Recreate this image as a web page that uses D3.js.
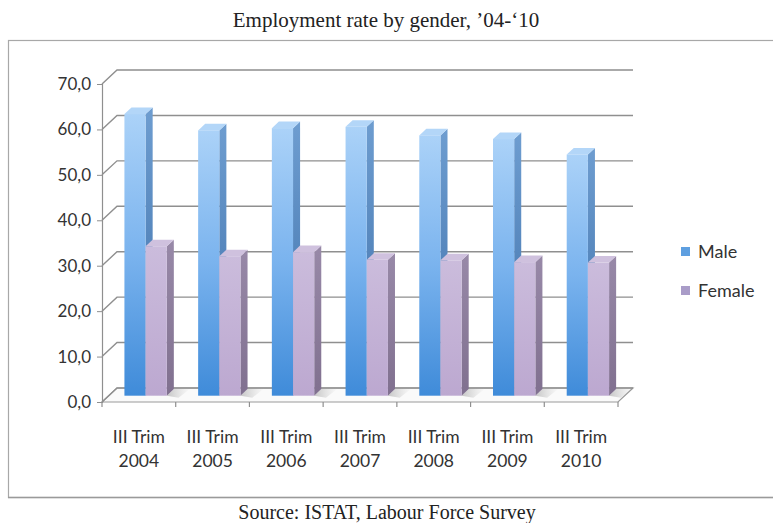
<!DOCTYPE html>
<html>
<head>
<meta charset="utf-8">
<script src="https://cdn.jsdelivr.net/npm/d3@7/dist/d3.min.js"></script>
<style>
  html, body { margin: 0; padding: 0; background: #fff; }
  svg { display: block; }
</style>
</head>
<body>
<svg id="chart" width="773" height="523"></svg>
<script>
// Employment rate by gender, third quarter 2004-2010
const categories = ["2004", "2005", "2006", "2007", "2008", "2009", "2010"];
const categoryPrefix = "III Trim";
const series = ["Male", "Female"];
const maleValues = [62.0, 58.4, 58.9, 59.2, 57.3, 56.5, 53.1];
const femaleValues = [32.9, 30.7, 31.6, 29.9, 29.8, 29.4, 29.3];
const yTicks = [0, 10, 20, 30, 40, 50, 60, 70];
const titleText = "Employment rate by gender, \u201904-\u201810";
const sourceText = "Source: ISTAT, Labour Force Survey";

const valuesBySeries = { Male: maleValues, Female: femaleValues };

const svg = d3.select("#chart");

// plot geometry (front plane of the 3-D box plus its depth vector)
const plot = { left: 102, right: 618, bottom: 402, top: 84 };
const depth = { dx: 15, dy: -14 };
const barZ = [0.45, 0.92];

const x = d3.scaleBand().domain(categories).range([plot.left, plot.right]).paddingInner(0).paddingOuter(0);
const inner = d3.scaleBand().domain(series).range([0, x.bandwidth()]).paddingInner(0).paddingOuter(0.74);
const y = d3.scaleLinear().domain([0, 70]).range([plot.bottom, plot.top]);

// project a point (front x, value, depth 0..1) onto the page
const P = (px, v, z) => [px + z * depth.dx, y(v) + z * depth.dy];
const pt = (px, v, z) => P(px, v, z).join(",");

const defs = svg.append("defs");
function vGrad(id, stops) {
  const g = defs.append("linearGradient").attr("id", id)
    .attr("x1", 0).attr("y1", 0).attr("x2", 0).attr("y2", 1);
  stops.forEach(([o, c]) => g.append("stop").attr("offset", o).attr("stop-color", c));
}
vGrad("maleFront", [[0, "#abd2f8"], [0.5, "#7ab3ee"], [1, "#3f8bd9"]]);
vGrad("maleSide", [[0, "#6e9dd0"], [1, "#3b6ea8"]]);
vGrad("femaleFront", [[0, "#cbbcdc"], [1, "#bca8d0"]]);
vGrad("femaleSide", [[0, "#9889a8"], [1, "#80708f"]]);
const shadowGrad = defs.append("linearGradient").attr("id", "floorShadow")
  .attr("x1", 0).attr("y1", 0).attr("x2", 1).attr("y2", 0);
shadowGrad.append("stop").attr("offset", 0).attr("stop-color", "#9a9a9a").attr("stop-opacity", 0.55);
shadowGrad.append("stop").attr("offset", 1).attr("stop-color", "#bbbbbb").attr("stop-opacity", 0);

const styles = {
  Male:   { front: "url(#maleFront)", side: "url(#maleSide)", top: "#b3d6f8" },
  Female: { front: "url(#femaleFront)", side: "url(#femaleSide)", top: "#cfc1de" }
};

// outer frame
svg.append("rect").attr("x", 8.5).attr("y", 40.5).attr("width", 800).attr("height", 457)
  .attr("fill", "#fff").attr("stroke", "#a8a8a8").attr("stroke-width", 1.2);
svg.append("line").attr("x1", 8).attr("x2", 773).attr("y1", 497.5).attr("y2", 497.5)
  .attr("stroke", "#9a9a9a").attr("stroke-width", 1.6);

// title and source
svg.append("text").attr("x", 386).attr("y", 27).attr("text-anchor", "middle")
  .attr("font-family", "'Liberation Serif', 'DejaVu Serif', serif").attr("font-size", 21)
  .attr("fill", "#222").text(titleText);
svg.append("text").attr("x", 387).attr("y", 519).attr("text-anchor", "middle")
  .attr("font-family", "'Liberation Serif', 'DejaVu Serif', serif").attr("font-size", 20)
  .attr("fill", "#222").text(sourceText);

// floor
const fl = plot.left, fr = plot.right;
svg.append("polygon")
  .attr("points", [pt(fl, 0, 0), pt(fr, 0, 0), pt(fr, 0, 1), pt(fl, 0, 1)].join(" "))
  .attr("fill", "#fafafa").attr("stroke", "#9a9a9a").attr("stroke-width", 1.2);

// gridlines: side wall segment + back wall line
const grid = svg.append("g");
yTicks.forEach(v => {
  const a = P(fl, v, 0), b = P(fl, v, 1), c = P(fr, v, 1);
  grid.append("polyline")
    .attr("points", [a, b, c].map(p => p.join(",")).join(" "))
    .attr("fill", "none").attr("stroke", "#8f8f8f").attr("stroke-width", 1.4);
});

// y axis on the front plane
const yAxis = svg.append("g").attr("transform", `translate(${plot.left},0)`)
  .call(d3.axisLeft(y).tickValues(yTicks).tickSize(5).tickPadding(6)
    .tickFormat(d => d3.format(".1f")(d).replace(".", ",")));
yAxis.select(".domain").attr("stroke", "#8f8f8f").attr("stroke-width", 1.2);
yAxis.selectAll(".tick line").attr("stroke", "#8f8f8f");
yAxis.selectAll(".tick text").attr("font-family", "Lato, 'Open Sans', sans-serif")
  .attr("font-size", 17).attr("fill", "#333");

// x axis ticks on the front floor edge
const xAxis = svg.append("g").attr("transform", `translate(0,${plot.bottom})`);
xAxis.selectAll("line").data(categories.map(c => x(c)).concat([plot.right]))
  .join("line").attr("x1", d => d).attr("x2", d => d).attr("y1", 0).attr("y2", 5)
  .attr("stroke", "#8f8f8f").attr("stroke-width", 1.2);
const xLabels = xAxis.selectAll("text").data(categories).join("text")
  .attr("x", d => x(d) + x.bandwidth() / 2).attr("text-anchor", "middle")
  .attr("font-family", "Lato, 'Open Sans', sans-serif").attr("font-size", 17.5).attr("fill", "#333");
xLabels.append("tspan").attr("x", d => x(d) + x.bandwidth() / 2).attr("y", 41).text(categoryPrefix);
xLabels.append("tspan").attr("x", d => x(d) + x.bandwidth() / 2).attr("y", 65).text(d => d);

// floor shadows cast to the right of each pair
const shadows = svg.append("g");
categories.forEach(c => {
  const x0 = x(c) + inner("Female") + inner.bandwidth();
  shadows.append("polygon")
    .attr("points", [pt(x0, 0, barZ[0]), pt(x0 + 14, 0, barZ[0] - 0.15), pt(x0 + 16, 0, 1), pt(x0, 0, barZ[1])].join(" "))
    .attr("fill", "url(#floorShadow)");
});

// 3-D columns
const bars = svg.append("g");
categories.forEach((c, i) => {
  series.forEach(s => {
    const v = valuesBySeries[s][i];
    const x0 = x(c) + inner(s), x1 = x0 + inner.bandwidth();
    const st = styles[s];
    const g = bars.append("g");
    // right side face
    g.append("polygon")
      .attr("points", [pt(x1, 0, barZ[0]), pt(x1, v, barZ[0]), pt(x1, v, barZ[1]), pt(x1, 0, barZ[1])].join(" "))
      .attr("fill", st.side);
    // top face
    g.append("polygon")
      .attr("points", [pt(x0, v, barZ[0]), pt(x1, v, barZ[0]), pt(x1, v, barZ[1]), pt(x0, v, barZ[1])].join(" "))
      .attr("fill", st.top);
    // front face
    const f0 = P(x0, v, barZ[0]), f1 = P(x1, 0, barZ[0]);
    g.append("rect").attr("x", f0[0]).attr("y", f0[1])
      .attr("width", f1[0] - f0[0]).attr("height", f1[1] - f0[1])
      .attr("fill", st.front);
  });
});

// legend
const legend = svg.append("g").attr("transform", "translate(681,247)");
const legendColors = { Male: "#5e9fe0", Female: "#a99cc8" };
series.forEach((s, i) => {
  const row = legend.append("g").attr("transform", `translate(0,${i * 39})`);
  row.append("rect").attr("width", 9).attr("height", 9).attr("fill", legendColors[s]);
  row.append("text").attr("x", 17).attr("y", 11)
    .attr("font-family", "Lato, 'Open Sans', sans-serif").attr("font-size", 18)
    .attr("fill", "#333").text(s);
});
</script>
</body>
</html>
